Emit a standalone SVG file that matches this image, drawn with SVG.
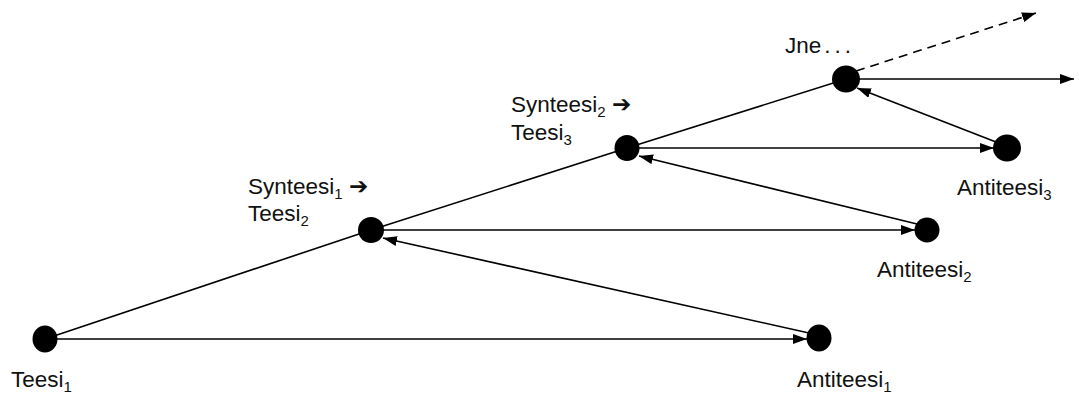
<svg xmlns="http://www.w3.org/2000/svg" width="1079" height="394" viewBox="0 0 1079 394">
  <style>
    .dot { fill: #000; }
    .ln { stroke: #000; stroke-width: 1.6; fill: none; }
    .arr { stroke: #000; stroke-width: 1.6; fill: none; marker-end: url(#head); }
    .dash { stroke-dasharray: 9 6; }
    .lbl { font-family: "Liberation Sans", Arial, sans-serif; font-size: 22.5px; fill: #111; }
    .sub { font-size: 15px; }
    .sym { font-family: "DejaVu Sans", sans-serif; font-size: 23px; font-weight: bold; }
  </style>
  <defs>
    <marker id="head" viewBox="0 0 14 10" refX="14" refY="5" markerWidth="14" markerHeight="10" markerUnits="userSpaceOnUse" orient="auto">
      <path d="M0,0 L14,5 L0,10 Z" fill="#000"/>
    </marker>
  </defs>

  <!-- connectors -->
  <g id="connectors">
    <!-- progression line through the syntheses -->
    <polyline class="ln" points="45,339 371,230 627,148 846,79"/>
    <!-- thesis to antithesis -->
    <line class="arr" x1="57" y1="339" x2="807" y2="339"/>
    <line class="arr" x1="383" y1="230" x2="915" y2="230"/>
    <line class="arr" x1="639" y1="148" x2="994" y2="148"/>
    <line class="arr" x1="858" y1="79" x2="1074" y2="79"/>
    <!-- antithesis back to synthesis -->
    <line class="arr" x1="809" y1="333" x2="383" y2="238"/>
    <line class="arr" x1="917" y1="224" x2="639" y2="156"/>
    <line class="arr" x1="996" y1="142" x2="857" y2="88"/>
    <!-- continuation -->
    <line class="arr dash" x1="856" y1="71" x2="1036" y2="13"/>
  </g>

  <g id="teesi1">
    <ellipse class="dot" cx="45" cy="339" rx="12.5" ry="13.5"/>
    <text class="lbl" x="11" y="387">Teesi<tspan class="sub" dy="5">1</tspan></text>
  </g>

  <g id="antiteesi1">
    <ellipse class="dot" cx="819" cy="338" rx="12.5" ry="13.5"/>
    <text class="lbl" x="797" y="387">Antiteesi<tspan class="sub" dy="5">1</tspan></text>
  </g>

  <g id="synteesi1">
    <ellipse class="dot" cx="371" cy="230" rx="13" ry="13"/>
    <text class="lbl" x="248" y="194">Synteesi<tspan class="sub" dy="5">1</tspan><tspan dy="-5"> </tspan><tspan class="sym">➔</tspan></text>
    <text class="lbl" x="248" y="221">Teesi<tspan class="sub" dy="5">2</tspan></text>
  </g>

  <g id="antiteesi2">
    <ellipse class="dot" cx="927" cy="230" rx="12.5" ry="12.5"/>
    <text class="lbl" x="877" y="277">Antiteesi<tspan class="sub" dy="5">2</tspan></text>
  </g>

  <g id="synteesi2">
    <ellipse class="dot" cx="627" cy="148" rx="12.5" ry="13"/>
    <text class="lbl" x="511" y="112">Synteesi<tspan class="sub" dy="5">2</tspan><tspan dy="-5"> </tspan><tspan class="sym">➔</tspan></text>
    <text class="lbl" x="511" y="140">Teesi<tspan class="sub" dy="5">3</tspan></text>
  </g>

  <g id="antiteesi3">
    <ellipse class="dot" cx="1007" cy="148" rx="14" ry="13.5"/>
    <text class="lbl" x="957" y="195">Antiteesi<tspan class="sub" dy="5">3</tspan></text>
  </g>

  <g id="jne">
    <ellipse class="dot" cx="846" cy="79" rx="14" ry="13.5"/>
    <text class="lbl" x="785" y="53">Jne<tspan letter-spacing="4" dx="3">...</tspan></text>
  </g>
</svg>
